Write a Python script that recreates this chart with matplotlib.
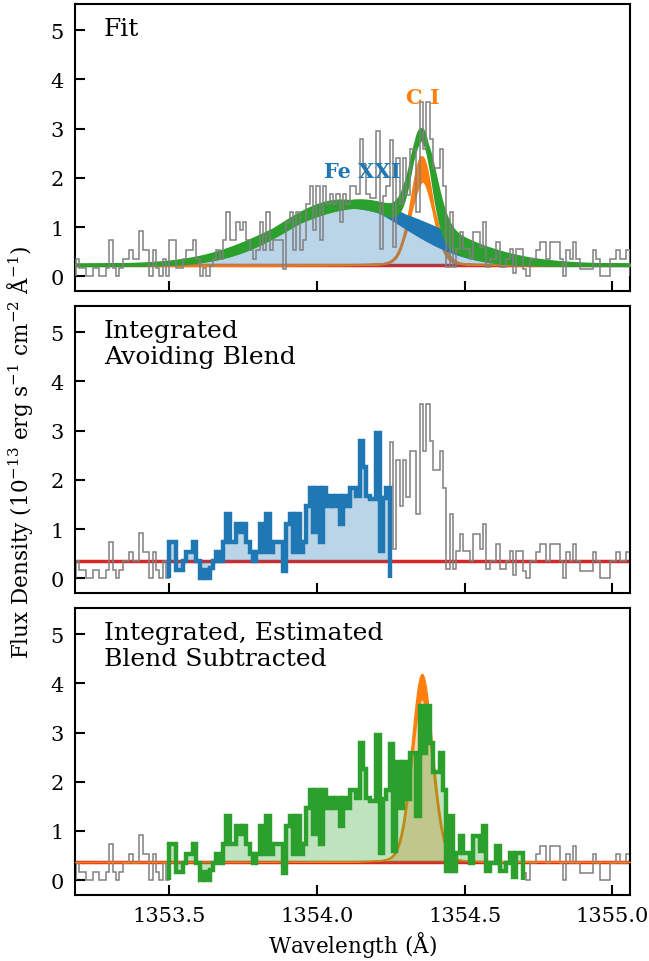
import numpy as np
import matplotlib.pyplot as plt

plt.rcParams['font.family'] = 'DejaVu Serif'
plt.rcParams['mathtext.fontset'] = 'dejavuserif'

# spectrum bins
wave_start = 1353.1836
bin_width = 0.0113
flux = [
    0.35, 0.17, 0.17, 0.0, 0.0, 0.17, 0.17, 0.0, 0.0, 0.17,
    0.73, 0.17, 0.0, 0.17, 0.36, 0.36, 0.53, 0.36, 0.36, 0.91,
    0.53, 0.53, 0.0, 0.53, 0.17, 0.0, 0.36, 0.0,
    0.73, 0.73, 0.17, 0.17, 0.36, 0.53, 0.53, 0.73, 0.36, 0.0,
    0.17, 0.0, 0.2, 0.36, 0.53, 0.36,
    0.73, 1.30, 0.73, 0.73, 1.10, 0.93, 1.10, 0.73, 0.53, 0.36,
    0.53, 1.10, 0.53, 1.30, 0.53, 0.73, 0.73, 0.73, 0.15, 1.10,
    1.30, 0.53, 1.30, 0.53, 0.73, 1.47, 1.84, 0.93, 1.84, 0.73,
    1.84, 1.47, 1.67, 1.47, 1.67, 1.10, 1.67, 1.47, 1.84, 1.84,
    1.67, 2.79, 2.25,
    1.67, 1.60, 1.60, 2.95, 0.55, 1.64, 1.84,
    2.76, 0.60, 2.40, 1.47, 2.40, 1.65, 2.58, 2.58, 1.30, 3.53,
    2.58, 3.53, 2.79, 2.20, 2.20, 2.58, 1.84, 0.19, 1.30, 0.19,
    0.56, 0.90, 0.56, 0.56, 0.36, 0.90, 0.90, 0.60, 1.10, 0.19,
    0.36, 0.36, 0.70, 0.19, 0.19, 0.36, 0.55, 0.07, 0.55, 0.55,
    0.15, 0.0, 0.36, 0.36, 0.53, 0.69, 0.69, 0.36, 0.69, 0.69,
    0.69, 0.36, 0.0, 0.53, 0.36, 0.69, 0.36, 0.15, 0.15, 0.15,
    0.15, 0.53, 0.36, 0.0, 0.0, 0.0, 0.36, 0.36, 0.53, 0.36,
    0.36, 0.53,
]

# integration windows as bin index ranges
avoid_rng = (28, 94)
sub_rng = (28, 134)

# continuum levels
cont_fit = 0.23
cont_avoid = 0.36
cont_sub = 0.37

# model draws (center, sigma, amplitude)
fe_draws = [(1354.08, 0.21, 1.30), (1354.15, 0.27, 1.18), (1354.12, 0.24, 1.24),
            (1354.14, 0.225, 1.30), (1354.10, 0.25, 1.18)]
ci_draws = [(1354.354, 0.036, 2.20), (1354.358, 0.042, 1.70), (1354.355, 0.039, 1.85),
            (1354.355, 0.040, 1.72), (1354.352, 0.038, 1.95)]
ci_sub_draws = [(1354.355, 0.036, 3.82), (1354.355, 0.035, 3.31)]

xlim = (1353.18, 1355.06)
ylim = (-0.3, 5.53)


def profile(x, c, s, a, eta=0.0):
    g = np.exp(-0.5 * ((x - c) / s) ** 2)
    l = 1.0 / (1.0 + ((x - c) / (1.1774 * s)) ** 2)
    return a * ((1 - eta) * g + eta * l)


flux = np.array(flux)
edges = wave_start + bin_width * np.arange(len(flux) + 1)
x = np.linspace(xlim[0], xlim[1], 1500)

fe = np.array([profile(x, *p) for p in fe_draws])
ci = np.array([profile(x, *p, eta=0.12) for p in ci_draws])
tot = fe + ci
ci3 = np.array([profile(x, *p, eta=0.12) for p in ci_sub_draws])

fig, axes = plt.subplots(3, 1, figsize=(6.49, 9.62), dpi=100, sharex=True)
plt.subplots_adjust(left=0.1156, right=0.9707, top=0.9948, bottom=0.0686, hspace=0.052)

gray = '#808080'

# ---- panel 1: fit
ax = axes[0]
ax.axhline(cont_fit, color='C3', lw=2.5, zorder=1)
ax.fill_between(x, cont_fit + ci.min(0), cont_fit + ci.max(0), color='C1', ec='C1', lw=1.5, zorder=2)
ax.fill_between(x, cont_fit, cont_fit + fe.mean(0), color='C0', alpha=0.3, lw=0, zorder=3)
ax.fill_between(x, cont_fit + fe.min(0), cont_fit + fe.max(0), color='C0', ec='C0', lw=1.5, zorder=4)
ax.fill_between(x, cont_fit + tot.min(0), cont_fit + tot.max(0), color='C2', ec='C2', lw=2.5, zorder=5)
ax.stairs(flux, edges, color=gray, lw=1.1, zorder=6)
ax.text(1354.155, 2.13, 'Fe XXI', color='C0', fontsize=15, fontweight='bold', ha='center', va='center', zorder=7)
ax.text(1354.36, 3.65, 'C I', color='C1', fontsize=15, fontweight='bold', ha='center', va='center', zorder=7)
ax.text(0.052, 0.955, 'Fit', transform=ax.transAxes, fontsize=18, va='top')

# ---- panel 2: integrated avoiding blend
ax = axes[1]
a0, a1 = avoid_rng
ax.axhline(cont_avoid, color='C3', lw=2.5, zorder=1)
ax.stairs(flux, edges, color=gray, lw=1.1, zorder=2)
ax.stairs(flux[a0:a1], edges[a0:a1 + 1], baseline=cont_avoid, fill=True, color='C0', alpha=0.3, lw=0, zorder=3)
ax.stairs(flux[a0:a1], edges[a0:a1 + 1], color='C0', lw=3.2, zorder=4)
ax.text(0.052, 0.955, 'Integrated\nAvoiding Blend', transform=ax.transAxes, fontsize=18, va='top', linespacing=1.15)

# ---- panel 3: integrated, blend subtracted
ax = axes[2]
s0, s1 = sub_rng
ax.axhline(cont_sub, color='C3', lw=2.5, zorder=1)
ax.stairs(flux, edges, color=gray, lw=1.1, zorder=2)
ax.fill_between(x, cont_sub, cont_sub + ci3.min(0), color='C1', alpha=0.3, lw=0, zorder=3)
ax.fill_between(x, cont_sub + ci3.min(0), cont_sub + ci3.max(0), color='C1', ec='C1', lw=1.0, zorder=3)
ax.stairs(flux[s0:s1], edges[s0:s1 + 1], baseline=cont_sub, fill=True, color='C2', alpha=0.3, lw=0, zorder=4)
ax.stairs(flux[s0:s1], edges[s0:s1 + 1], color='C2', lw=3.2, zorder=5)
ax.text(0.052, 0.955, 'Integrated, Estimated\nBlend Subtracted', transform=ax.transAxes, fontsize=18, va='top',
        linespacing=1.15)

for ax in axes:
    ax.set_xlim(*xlim)
    ax.set_ylim(*ylim)
    ax.set_yticks([0, 1, 2, 3, 4, 5])
    ax.set_xticks([1353.5, 1354.0, 1354.5, 1355.0])
    ax.tick_params(direction='in', length=7, width=1.5, labelsize=15, pad=8, top=False, right=False)
    for sp in ax.spines.values():
        sp.set_linewidth(1.5)
axes[2].set_xticklabels(['1353.5', '1354.0', '1354.5', '1355.0'])

fig.text(0.031, 0.53, r'Flux Density ($10^{-13}$ erg s$^{-1}$ cm$^{-2}$ $\mathrm{\AA}^{-1}$)',
         rotation=90, fontsize=15.5, ha='center', va='center')
fig.text(0.543, 0.018, r'Wavelength ($\mathrm{\AA}$)', fontsize=15.5, ha='center', va='center')

fig.savefig('out.png', dpi=100)
